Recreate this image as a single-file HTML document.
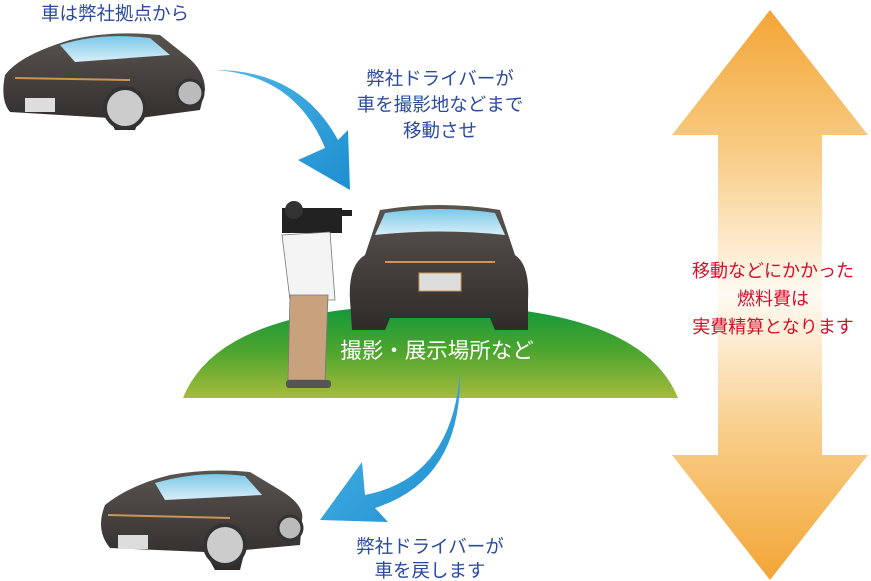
<!DOCTYPE html>
<html><head><meta charset="utf-8"><style>
body{margin:0;background:#fff;}
svg{display:block;font-family:"Liberation Sans","Noto Sans CJK JP",sans-serif;}
</style></head><body>
<svg width="871" height="581" viewBox="0 0 871 581" xmlns="http://www.w3.org/2000/svg">
<defs>
<linearGradient id="g" x1="0" y1="0" x2="0" y2="1"><stop offset="0" stop-color="#0f983c"/><stop offset="0.5" stop-color="#4ea52e"/><stop offset="1" stop-color="#a6bb3c"/></linearGradient>
<linearGradient id="o" x1="0" y1="0" x2="0" y2="1"><stop offset="0" stop-color="#f3a535"/><stop offset="0.25" stop-color="#f8cc86"/><stop offset="0.5" stop-color="#fffaf3"/><stop offset="0.75" stop-color="#f8cc86"/><stop offset="1" stop-color="#f3a535"/></linearGradient>
<linearGradient id="b" x1="0" y1="0" x2="1" y2="1"><stop offset="0" stop-color="#4fb7e8"/><stop offset="1" stop-color="#1d8ed0"/></linearGradient>
<linearGradient id="car" x1="0" y1="0" x2="0" y2="1"><stop offset="0" stop-color="#5a5450"/><stop offset="1" stop-color="#2f2b29"/></linearGradient>
<linearGradient id="ws" x1="0" y1="0" x2="0" y2="1"><stop offset="0" stop-color="#7cc8e8"/><stop offset="1" stop-color="#d8eef8"/></linearGradient>
</defs>
<polygon points="770,10 868,135 822,135 822,455 868,455 770,580 672,455 718,455 718,135 672,135" fill="url(#o)"/>
<g fill="#d2102a" font-size="18" text-anchor="middle">
<text x="773" y="277">移動などにかかった</text>
<text x="773" y="305">燃料費は</text>
<text x="773" y="333">実費精算となります</text>
</g>
<path d="M183,398 Q220,305 430,305 Q640,305 678,398 Z" fill="url(#g)"/>
<path d="M215,70 Q295,75 325,148 L298,160 L350,190 L348,130 L338,140 Q300,70 215,70 Z" fill="url(#b)"/>
<path d="M460,372 Q452,478 365,495 L362,462 L320,520 L388,522 L375,508 Q462,480 460,372 Z" fill="url(#b)"/>
<g>
<path d="M5,75 Q20,55 70,40 Q110,30 160,35 L185,55 Q205,70 205,90 L200,110 L140,118 L135,130 L115,130 L110,118 L10,112 Q0,100 5,75 Z" fill="url(#car)"/>
<path d="M60,45 Q100,32 150,38 L170,55 L75,62 Z" fill="url(#ws)"/>
<line x1="15" y1="78" x2="130" y2="80" stroke="#c8965a" stroke-width="2"/>
<rect x="25" y="98" width="30" height="14" fill="#ddd"/>
<circle cx="125" cy="108" r="20" fill="#ccc" stroke="#333" stroke-width="4"/>
<circle cx="190" cy="93" r="13" fill="#bbb" stroke="#333" stroke-width="3"/>
</g>
<g>
<path d="M380,210 Q440,200 500,210 L515,255 Q530,265 528,300 L528,330 L495,330 L490,318 L390,318 L385,330 L352,330 L350,300 Q348,265 365,255 Z" fill="url(#car)"/>
<path d="M385,213 Q440,205 495,213 L505,235 Q440,228 375,235 Z" fill="url(#ws)"/>
<line x1="385" y1="262" x2="495" y2="262" stroke="#c8965a" stroke-width="2"/>
<rect x="419" y="273" width="42" height="18" fill="#ddd" stroke="#c8965a"/>
</g>
<g>
<rect x="282" y="208" width="60" height="25" fill="#222"/>
<rect x="330" y="210" width="22" height="6" fill="#222"/>
<circle cx="294" cy="210" r="9" fill="#333"/>
<path d="M282,235 L330,232 L335,300 L290,300 Z" fill="#f4f4f4" stroke="#777" stroke-width="0.8"/>
<path d="M290,295 L328,295 L325,380 L300,380 L288,380 Z" fill="#c8a27c" stroke="#777" stroke-width="0.8"/>
<rect x="286" y="380" width="45" height="8" rx="3" fill="#555"/>
</g>
<text x="437" y="358" font-size="21.5" fill="#fff" text-anchor="middle">撮影・展示場所など</text>
<g>
<path d="M105,505 Q130,485 170,475 Q210,468 250,472 L280,490 Q305,505 302,520 L300,545 L245,550 L240,570 L215,570 L205,552 L110,548 Q95,530 105,505 Z" fill="url(#car)"/>
<path d="M155,483 Q200,470 245,476 L262,495 L165,500 Z" fill="url(#ws)"/>
<line x1="108" y1="515" x2="230" y2="518" stroke="#c8965a" stroke-width="2"/>
<rect x="118" y="535" width="30" height="14" fill="#ddd"/>
<circle cx="225" cy="545" r="20" fill="#ccc" stroke="#333" stroke-width="4"/>
<circle cx="290" cy="528" r="12" fill="#bbb" stroke="#333" stroke-width="3"/>
</g>
<g fill="#2b4aa0" font-size="18.5" text-anchor="middle">
<text x="115" y="20">車は弊社拠点から</text>
<text x="440" y="85">弊社ドライバーが</text>
<text x="440" y="111">車を撮影地などまで</text>
<text x="440" y="137">移動させ</text>
<text x="430" y="553">弊社ドライバーが</text>
<text x="430" y="577">車を戻します</text>
</g>
</svg>
</body></html>
